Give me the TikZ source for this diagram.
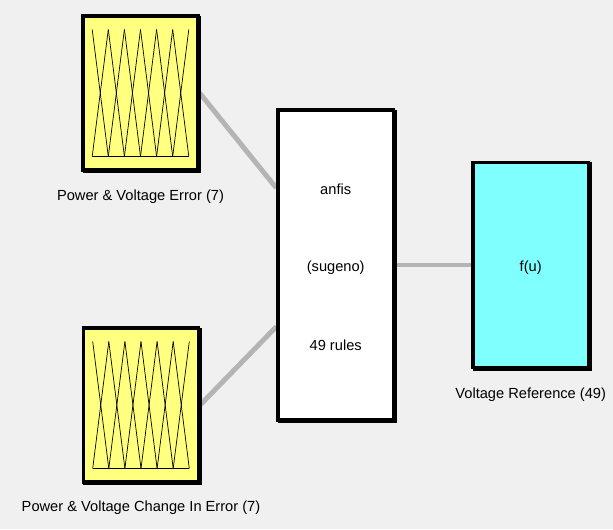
\documentclass[tikz,border=0pt]{standalone}
\usepackage{fontspec}
\setmainfont{Liberation Sans}
\usetikzlibrary{calc, backgrounds, shadows}
\definecolor{mfyellow}{HTML}{FFFF80}
\definecolor{outcyan}{HTML}{80FFFF}
\definecolor{wiregray}{HTML}{B4B4B4}
\definecolor{canvasgray}{HTML}{F0F0F0}
\tikzset{
  block/.style={draw=black, line width=2.8pt, inner sep=0pt,
    drop shadow={shadow xshift=1.2pt, shadow yshift=-1.2pt, fill=black, draw=black, line width=2.8pt, opacity=1}},
  mfblock/.style={block, fill=mfyellow, minimum width=3.45cm, minimum height=4.62cm},
  mfline/.style={black, line width=0.6pt},
  wire/.style={wiregray, line width=4.25pt},
  lbl/.style={font=\fontsize{12.5}{15}\selectfont, text=black, inner sep=1pt},
}

\begin{document}
\begin{tikzpicture}[x=0.03cm, y=-0.03cm]
            % blocks
            \node[mfblock] (errmf) at (140.5,93) {};
            \node[mfblock] (chgmf) at (141,405) {};
            \node[block, fill=white, minimum width=3.465cm, minimum height=9.3cm] (anfis) at (335.7,265) {};
            \node[block, fill=outcyan, minimum width=3.465cm, minimum height=6.165cm] (fu) at (530.7,265) {};

            % membership functions
            \foreach \n in {errmf, chgmf} {
              \foreach \i in {0,...,5} {
                \draw[mfline] ($(\n)+({-48.3+16.1*\i},-63.5)$) -- ($(\n)+({-48.3+16.1*(\i+1)},63.5)$);
                \draw[mfline] ($(\n)+({-48.3+16.1*\i},63.5)$) -- ($(\n)+({-48.3+16.1*(\i+1)},-63.5)$);
              }
              \draw[mfline] ($(\n)+(-48.3,63.5)$) -- ($(\n)+(48.3,63.5)$);
            }

            % texts
            \node[lbl] (anfisname) at (335.7,189) {anfis};
            \node[lbl] (anfistype) at (335.7,268) {(sugeno)};
            \node[lbl] (anfisrules) at (335.7,345) {49 rules};
            \node[lbl] (futext) at (530.7,268) {f(u)};

            \node[lbl] (errlbl) at (140.5,197) {Power \& Voltage Error (7)};
            \node[lbl] (chglbl) at (141,508) {Power \& Voltage Change In Error (7)};
            \node[lbl] (fulbl) at (530.7,395) {Voltage Reference (49)};

            % inputs of the anfis block
            \coordinate (anfisin1) at ($(anfis.west)+(0,-77)$);
            \coordinate (anfisin2) at ($(anfis.west)+(0,61.7)$);

            \begin{scope}[on background layer]
              \fill[canvasgray] (0,0) rectangle (613,529);
              \draw[wire] (errmf.east) -- (anfisin1);
              \draw[wire] (chgmf.east) -- (anfisin2);
              \draw[wire] (anfis.east) -- (fu.west);
            \end{scope}
        \end{tikzpicture}
\end{document}
